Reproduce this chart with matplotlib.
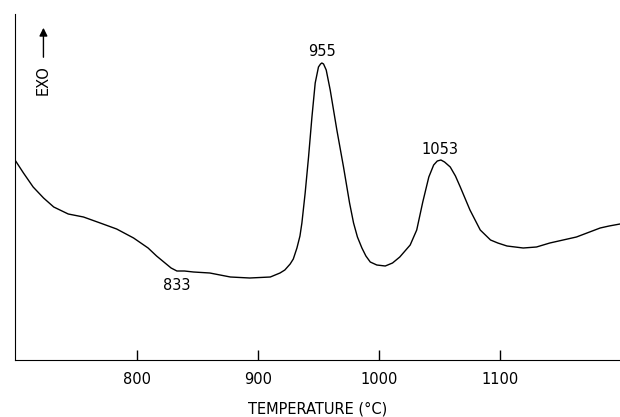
import matplotlib.pyplot as plt
from matplotlib import font_manager

# DTA trace (temperature in degC, signal in arbitrary units)
temperature = [699, 706, 714, 722.6, 731, 743, 755.6, 769.4, 783, 797, 809,
               816, 823, 828, 832.8, 839, 846.5, 860, 877, 893, 910,
               918, 922, 926.4, 929, 932, 934.5, 936.1, 938.8, 941.6, 944.4,
               947.1, 949.8, 951.5, 952.6, 954, 956.2, 959.5, 965, 970.5,
               975.5, 978.8, 982, 985.7, 989, 992.6, 998, 1005, 1011, 1017,
               1025.6, 1031, 1036, 1041, 1045, 1048, 1051, 1054, 1058.7,
               1063, 1067, 1075, 1083.5, 1092, 1098, 1105.6, 1119, 1130,
               1141, 1163, 1182.6, 1190, 1199]
signal = [200, 187, 173, 162, 153, 146, 143, 137, 131, 122, 112,
          104, 97, 92, 89, 89, 88, 87, 83, 82, 83,
          87, 90, 96, 101, 112, 124, 137, 167, 203, 243,
          277, 293, 296, 297, 296, 290, 270, 230, 193,
          157, 137, 123, 112, 104, 98, 95, 94, 97, 103,
          115, 130, 158, 183, 195, 199, 200, 198, 193,
          184, 173, 150, 130, 120, 117, 114, 112, 113,
          117, 123, 132, 134, 136]

peak_labels = ["833", "955", "1053"]
peak_pos = [(833, 74), (953, 309), (1050, 210)]

xticks = [800, 900, 1000, 1100]

names = {f.name for f in font_manager.fontManager.ttflist}
family = "Liberation Sans Narrow" if "Liberation Sans Narrow" in names else "DejaVu Sans"
plt.rcParams["font.family"] = [family, "DejaVu Sans"]

fig = plt.figure(figsize=(6.2, 4.17), dpi=100)
ax = fig.add_axes([15 / 620, 57 / 417, 605 / 620, 346 / 417])

ax.plot(temperature, signal, color="black", lw=1.0)

for lab, (x, y) in zip(peak_labels, peak_pos):
    ax.text(x, y, lab, ha="center", va="center", fontsize=10.5)

ax.set_xlim(699, 1199)
ax.set_ylim(0, 346)
ax.set_xticks(xticks)
ax.tick_params(axis="x", direction="in", length=7, width=1, labelsize=10.5, pad=9)
ax.set_yticks([])
ax.spines["top"].set_visible(False)
ax.spines["right"].set_visible(False)
ax.set_xlabel("TEMPERATURE (°C)", fontsize=10.5, labelpad=10)

# EXO arrow
ax.annotate("", xy=(722.5, 335), xytext=(722.5, 300),
            arrowprops=dict(arrowstyle="-|>", color="black", lw=1.0,
                            mutation_scale=12))
ax.text(722.5, 280, "EXO", rotation=90, ha="center", va="center", fontsize=10.5)

fig.savefig("out.png", dpi=100)
